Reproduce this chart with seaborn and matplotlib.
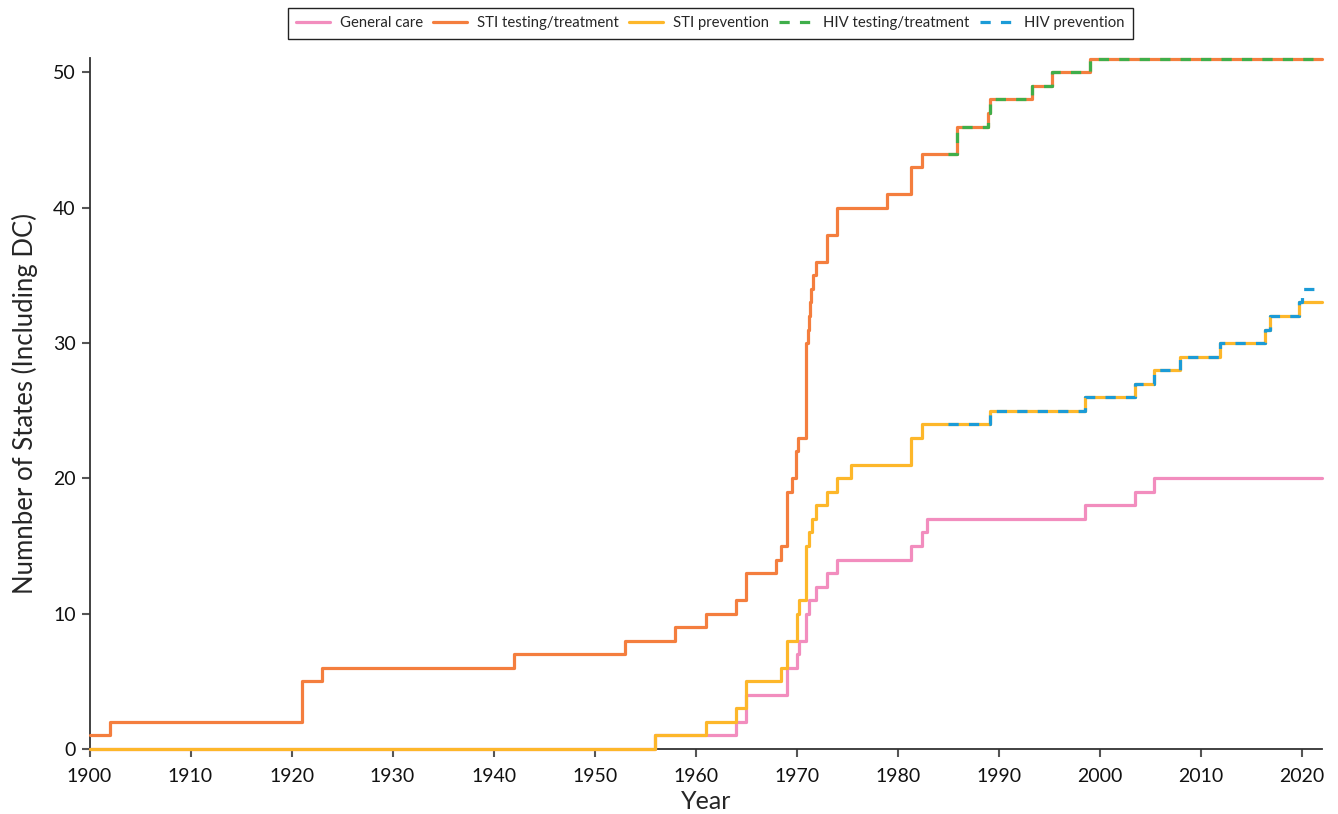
import matplotlib
matplotlib.use("Agg")
import matplotlib.pyplot as plt
import pandas as pd
import seaborn as sns

# Cumulative number of states (including DC) with a minor-consent law, by year
series_names = ["General care", "STI testing/treatment", "STI prevention",
                "HIV testing/treatment", "HIV prevention"]

general_years = [1900, 1956, 1964, 1965, 1969, 1970.0, 1970.2, 1970.9, 1971.2,
                 1971.9, 1973, 1974, 1981.3, 1982.4, 1982.9, 1998.5, 2003.5,
                 2005.4, 2022]
general_counts = [0, 1, 2, 4, 6, 7, 8, 10, 11, 12, 13, 14, 15, 16, 17, 18, 19,
                  20, 20]

sti_test_years = [1900, 1902, 1921, 1923, 1942, 1953, 1958, 1961, 1964, 1965,
                  1968, 1968.5, 1969, 1969.5, 1969.9, 1970.1, 1970.9, 1971.15,
                  1971.25, 1971.35, 1971.45, 1971.6, 1971.9, 1973, 1974,
                  1978.9, 1981.3, 1982.4, 1985.9, 1988.9, 1989.1, 1993.3,
                  1995.3, 1999, 2022]
sti_test_counts = [1, 2, 5, 6, 7, 8, 9, 10, 11, 13, 14, 15, 19, 20, 22, 23, 30,
                   31, 32, 33, 34, 35, 36, 38, 40, 41, 43, 44, 46, 47, 48, 49,
                   50, 51, 51]

sti_prev_years = [1900, 1956, 1961, 1964, 1965, 1968.5, 1969, 1970.0, 1970.2,
                  1970.9, 1971.2, 1971.5, 1971.9, 1973, 1974, 1975.4, 1981.3,
                  1982.4, 1989.1, 1998.5, 2003.5, 2005.4, 2007.9, 2011.9,
                  2016.4, 2016.9, 2019.7, 2022]
sti_prev_counts = [0, 1, 2, 3, 5, 6, 8, 10, 11, 15, 16, 17, 18, 19, 20, 21, 23,
                   24, 25, 26, 27, 28, 29, 30, 31, 32, 33, 33]

hiv_test_years = [1985, 1985.9, 1988.9, 1989.1, 1993.3, 1995.3, 1999, 2022]
hiv_test_counts = [44, 46, 47, 48, 49, 50, 51, 51]

hiv_prev_years = [1985, 1989.1, 1998.5, 2003.5, 2005.4, 2007.9, 2011.9, 2016.4,
                  2016.9, 2019.7, 2020.0, 2022]
hiv_prev_counts = [24, 25, 26, 27, 28, 29, 30, 31, 32, 33, 34, 34]

x_ticks = list(range(1900, 2021, 10))
y_ticks = [0, 10, 20, 30, 40, 50]

colors = {
    "General care": "#F28DBE",
    "STI testing/treatment": "#F47E3E",
    "STI prevention": "#FDB72A",
    "HIV testing/treatment": "#3FAE4A",
    "HIV prevention": "#1B9BD7",
}
dashes = {
    "General care": "",
    "STI testing/treatment": "",
    "STI prevention": "",
    "HIV testing/treatment": (3.2, 3.2),
    "HIV prevention": (3.2, 3.2),
}

frames = []
for name, yrs, cnt in [
    ("General care", general_years, general_counts),
    ("STI testing/treatment", sti_test_years, sti_test_counts),
    ("STI prevention", sti_prev_years, sti_prev_counts),
    ("HIV testing/treatment", hiv_test_years, hiv_test_counts),
    ("HIV prevention", hiv_prev_years, hiv_prev_counts),
]:
    frames.append(pd.DataFrame({"Year": yrs, "States": cnt, "Series": name}))
df = pd.concat(frames, ignore_index=True)

sns.set_theme(style="ticks")
plt.rcParams["font.family"] = ["Lato", "DejaVu Sans"]

fig = plt.figure(figsize=(13.38, 8.14), dpi=100)
ax = fig.add_axes([0.0669, 0.0799, 0.9211, 0.8494])

sns.lineplot(
    data=df, x="Year", y="States", hue="Series", style="Series",
    hue_order=series_names, style_order=series_names,
    palette=colors, dashes=dashes, estimator=None, sort=False,
    drawstyle="steps-post", linewidth=2.3, clip_on=False, zorder=3, ax=ax,
)

ax.set_xlim(1900, 2022)
ax.set_ylim(0, 51.1)
ax.set_xticks(x_ticks)
ax.set_yticks(y_ticks)
ax.set_xlabel("Year", fontsize=18, labelpad=3)
ax.set_ylabel("Numnber of States (Including DC)", fontsize=18.5, labelpad=11)

sns.despine(ax=ax)
for side in ("left", "bottom"):
    ax.spines[side].set_color("#333333")
    ax.spines[side].set_linewidth(1.3)
ax.tick_params(axis="both", length=6, width=1.5, color="#555555",
               labelsize=14, labelcolor="#111111")
ax.tick_params(axis="x", pad=8)
ax.tick_params(axis="y", pad=4)

sns.move_legend(
    ax, "upper center", bbox_to_anchor=(0.5035, 1.082), ncol=5, title=None,
    frameon=True, fancybox=False, edgecolor="#222222", framealpha=1,
    fontsize=10.7, handlelength=2.3, columnspacing=0.7, handletextpad=0.65,
    borderpad=0.55,
)
ax.get_legend().get_frame().set_linewidth(1.0)

fig.savefig("out.png", dpi=100)
